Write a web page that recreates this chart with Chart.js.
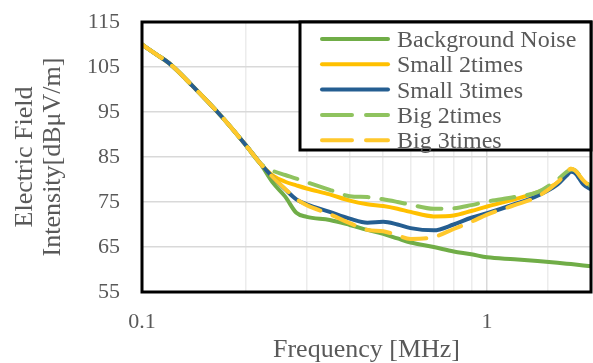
<!DOCTYPE html>
<html>
<head>
<meta charset="utf-8">
<script src="https://cdn.jsdelivr.net/npm/chart.js@4.4.1/dist/chart.umd.min.js"></script>
<style>
  html, body { margin: 0; padding: 0; background: #fff; }
</style>
</head>
<body>
<canvas id="chart" width="593" height="363"></canvas>
<script>
// frequency grid [MHz], shared by every series
const freqs = [0.1, 0.11, 0.12, 0.14, 0.17, 0.2, 0.22,
  0.24, 0.26, 0.28, 0.3, 0.35, 0.4, 0.45, 0.5, 0.55, 0.6, 0.7, 0.8, 0.9,
  1.0, 1.2, 1.4, 1.6, 1.7, 1.75, 1.8, 1.9, 2.0];

// all five curves coincide below ~0.22 MHz
const commonLow = [110.0, 107.8, 105.8, 100.8, 94.0, 87.6, 83.6];

const backgroundNoise = [...commonLow, 79.2, 76.2, 72.6, 71.7, 71.0, 69.9, 68.8, 67.9, 66.9, 66.0, 65.0, 64.0, 63.4,
  62.7, 62.3, 61.9, 61.5, 61.3, 61.2, 61.1, 60.9, 60.7];
const small2times = [...commonLow, 80.8, 79.5, 78.7, 78.0, 76.7, 75.3, 74.5, 74.1, 73.5, 72.8, 71.8, 72.0, 73.0,
  74.0, 75.6, 77.2, 79.3, 81.4, 82.4, 81.9, 79.7, 78.2];
const small3times = [...commonLow, 80.4, 77.8, 75.6, 74.5, 72.8, 71.3, 70.4, 70.6, 70.0, 69.2, 68.7, 70.0, 71.5,
  72.5, 74.5, 76.4, 78.9, 80.9, 81.7, 81.4, 78.9, 77.8];
const big2times = [...commonLow, 81.9, 81.0, 80.2, 79.4, 77.7, 76.3, 76.1, 75.6, 75.0, 74.4, 73.5, 73.6, 74.3,
  75.1, 76.1, 77.2, 80.0, 81.7, 82.2, 82.0, 79.9, 78.5];
const big3times = [...commonLow, 80.4, 77.9, 75.7, 74.3, 72.3, 70.3, 68.8, 68.5, 67.6, 66.8, 67.2, 69.0, 70.6,
  72.2, 74.3, 76.2, 79.4, 81.5, 82.4, 82.0, 79.8, 78.3];

const xTickLabels = ['0.1', '1'];

const textColor = '#595959';
const serif = 'Liberation Serif';
const longDash = [24, 13];

const series = (label, values, color, order, dash) => ({
  label,
  data: freqs.map((f, i) => ({ x: f, y: values[i] })),
  borderColor: color,
  backgroundColor: color,
  borderWidth: 4,
  borderCapStyle: 'round',
  borderJoinStyle: 'round',
  borderDash: dash || [],
  pointRadius: 0,
  cubicInterpolationMode: 'monotone',
  order,
});

// no extra room for half tick labels - the frame sits at fixed spots
const noLabelPadding = s => {
  s.paddingTop = 0;
  s.paddingBottom = 0;
  s.paddingLeft = 0;
  s.paddingRight = 0;
};

// plot frame + the boxed key in the top-right corner
const frameAndKey = {
  id: 'frameAndKey',
  afterDraw(chart) {
    const { ctx, chartArea: a } = chart;
    ctx.save();
    ctx.lineWidth = 3;
    ctx.strokeStyle = '#000';
    ctx.strokeRect(a.left, a.top, a.right - a.left, a.bottom - a.top);

    const bx = 300, by = a.top, bw = a.right - bx, bh = 128;
    ctx.fillStyle = '#fff';
    ctx.fillRect(bx, by, bw, bh);
    ctx.strokeRect(bx, by, bw, bh);

    ctx.font = `24px "${serif}"`;
    ctx.textBaseline = 'alphabetic';
    ctx.textAlign = 'left';
    chart.data.datasets.forEach((ds, i) => {
      const y = by + 17 + i * 25.3;
      ctx.beginPath();
      ctx.lineWidth = 4;
      ctx.lineCap = 'round';
      ctx.strokeStyle = ds.borderColor;
      ctx.setLineDash(ds.borderDash.length ? [30, 14] : []);
      ctx.moveTo(322, y);
      ctx.lineTo(388, y);
      ctx.stroke();
      ctx.setLineDash([]);
      ctx.fillStyle = textColor;
      ctx.fillText(ds.label, 397, y + 8);
    });
    ctx.restore();
  },
};

new Chart(document.getElementById('chart'), {
  type: 'line',
  data: {
    datasets: [
      series('Background Noise', backgroundNoise, '#70ad47', 5),
      series('Small 2times', small2times, '#ffc000', 4),
      series('Small 3times', small3times, '#255e91', 3),
      series('Big 2times', big2times, '#8fc35f', 2, longDash),
      series('Big 3times', big3times, '#ffc82c', 1, longDash),
    ],
  },
  options: {
    responsive: false,
    animation: false,
    layout: { padding: { top: 22, right: 2, left: 0, bottom: 0 } },
    plugins: { legend: { display: false }, tooltip: { enabled: false } },
    scales: {
      x: {
        type: 'logarithmic',
        min: 0.1,
        max: 2,
        afterFit: s => { s.height = 71; noLabelPadding(s); },
        border: { display: false },
        grid: {
          drawTicks: false,
          lineWidth: 1.5,
          color: c => (Math.abs(c.tick.value - 1) < 1e-9 ? '#d9d9d9' : '#ececec'),
        },
        ticks: {
          autoSkip: false,
          maxRotation: 0,
          padding: 17,
          color: textColor,
          font: { family: serif, size: 22 },
          callback: v => xTickLabels.find(t => Math.abs(parseFloat(t) - v) < 1e-9) || '',
        },
        title: {
          display: true,
          text: 'Frequency [MHz]',
          color: textColor,
          font: { family: serif, size: 26, lineHeight: 1.08 },
          padding: { top: 0, bottom: -1 },
        },
      },
      y: {
        min: 55,
        max: 115,
        afterFit: s => { s.width = 142; noLabelPadding(s); },
        border: { display: false },
        grid: { drawTicks: false, lineWidth: 1.5, color: '#d9d9d9' },
        ticks: {
          stepSize: 10,
          padding: 22,
          color: textColor,
          font: { family: serif, size: 22 },
        },
        title: {
          display: true,
          text: ['Electric Field', 'Intensity[dBμV/m]'],
          color: textColor,
          font: { family: serif, size: 26, lineHeight: 1.08 },
          padding: { top: 11, bottom: 0 },
        },
      },
    },
  },
  plugins: [frameAndKey],
});
</script>
</body>
</html>
